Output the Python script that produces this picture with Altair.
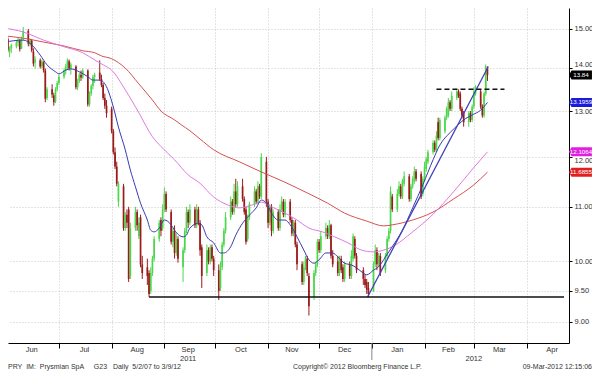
import altair as alt
import pandas as pd

# ---------------- data ----------------
trade_days = pd.bdate_range("2011-05-30", "2012-03-09")
trade_days = trade_days[trade_days != pd.Timestamp("2011-12-26")]

opens = [
 14.55,14.66,14.74,14.42,14.50, 14.55,14.65,14.70,14.50,14.78, 14.95,14.60,14.70,14.42,14.15,
 14.20,14.05,14.15,13.95,13.30, 13.50,13.36,13.22,13.50,13.65, 13.80,13.95,14.05,14.18,14.00,
 14.05,13.55,13.70,13.85,13.78, 13.95,13.15,13.40,13.58,13.80, 13.90,13.75,13.60,13.30,13.12,
 13.05,12.55,12.10,11.80,11.10, 11.40,10.60,10.85,10.95,9.75, 10.60,10.90,10.45,10.80,9.95,
 9.90,9.80,9.50,9.80,10.05, 10.40,10.75,10.60,10.95,11.25, 10.90,10.35,10.55,10.15,10.40,
 9.90,10.20,10.55,10.90,10.70, 10.95,10.65,10.95,10.70,10.25, 9.80,10.20,10.00,10.25,10.05,
 9.85,9.55,9.90,10.30,10.55, 10.80,11.10,10.90,11.30,11.05, 11.40,11.15,10.95,10.40,10.80,
 11.05,11.30,11.10,11.40,11.20, 11.90,11.10,10.70,11.00,10.55, 10.90,10.60,10.95,11.10,10.85,
 11.10,10.75,10.50,10.70,10.30, 9.95,9.65,9.90,10.05,9.75, 9.40,9.80,9.95,10.35,10.20,
 10.45,10.60,10.45,10.65,10.10, 10.00,9.80,10.05,9.90,9.70, 9.95,9.75,10.05,10.40,10.10,
 9.85,9.70,9.65,9.55, 9.50,9.95,10.20,9.95,10.10, 9.85,10.10,10.40,10.55,11.20,
 10.95,11.25,11.40,11.20,11.45, 11.60,11.15,11.40,11.50,11.70, 11.65,11.25,11.55,11.75,11.90,
 12.10,12.30,12.15,12.75,12.40, 12.55,12.85,12.90,13.20,13.05, 13.30,13.45,13.40,13.05,12.95,
 12.75,12.95,12.80,13.10,13.40, 13.45,13.10,12.90,13.40,14.00]
highs = [
 14.72,14.80,14.78,14.55,14.62, 14.70,14.78,14.74,14.80,15.05, 15.00,14.75,14.74,14.50,14.30,
 14.25,14.22,14.18,14.00,13.55, 13.62,13.42,13.55,13.70,13.85, 14.00,14.12,14.25,14.22,14.15,
 14.08,13.75,13.90,13.95,14.00, 13.98,13.45,13.62,13.85,13.90, 14.20,13.85,13.65,13.40,13.25,
 13.10,12.60,12.20,11.90,11.50, 11.45,10.90,10.95,11.00,10.70, 11.00,10.95,10.80,10.85,10.10,
 10.05,9.85,9.90,10.10,10.45, 10.75,10.80,11.05,11.38,11.30, 10.95,10.60,10.65,10.50,10.45,
 10.25,10.60,11.00,10.95,11.05, 11.00,11.05,11.00,10.75,10.30, 10.30,10.25,10.30,10.30,10.10,
 9.95,10.00,10.35,10.60,10.90, 11.20,11.15,11.45,11.55,11.50, 11.55,11.20,11.00,10.85,11.10,
 11.40,11.35,11.50,11.45,12.08, 12.00,11.15,11.05,11.05,10.95, 10.95,11.05,11.20,11.15,11.15,
 11.15,10.80,10.75,10.75,10.35, 10.00,10.00,10.10,10.10,9.80, 9.85,10.00,10.40,10.40,10.55,
 10.70,10.65,10.75,10.68,10.20, 10.10,10.10,10.10,9.95,10.00, 10.00,10.20,10.50,10.45,10.15,
 9.90,9.78,9.70,9.65, 10.00,10.30,10.25,10.15,10.15, 10.15,10.45,10.60,11.40,11.25,
 11.35,11.50,11.45,11.55,11.70, 11.65,11.45,11.60,11.80,11.75, 11.70,11.60,11.90,12.00,12.15,
 12.35,12.35,12.55,12.85,12.85, 12.90,13.10,13.30,13.25,13.45, 13.50,13.50,13.45,13.10,13.00,
 13.00,13.00,13.15,13.55,13.60, 13.50,13.15,13.45,14.10,14.05]
lows = [
 14.48,14.55,14.40,14.28,14.38, 14.50,14.55,14.42,14.48,14.70, 14.55,14.55,14.40,14.05,14.00,
 14.00,14.00,13.90,13.20,13.25, 13.30,13.12,13.18,13.45,13.60, 13.75,13.85,13.98,13.95,13.85,
 13.50,13.48,13.65,13.70,13.75, 13.10,13.10,13.35,13.50,13.65, 13.70,13.55,13.25,13.05,12.85,
 12.50,12.05,11.75,11.40,11.00, 10.55,10.55,10.60,9.65,9.70, 10.55,10.55,10.40,9.90,9.70,
 9.60,9.40,9.45,9.75,10.00, 10.35,10.45,10.55,10.90,10.90, 10.30,10.25,10.05,10.10,9.98,
 9.65,10.15,10.50,10.60,10.65, 10.60,10.60,10.65,10.10,9.55, 9.75,9.95,9.95,10.00,9.75,
 9.35,9.50,9.85,10.25,10.50, 10.75,10.85,10.85,11.00,11.00, 11.10,10.85,10.30,10.35,10.75,
 11.00,11.05,11.05,11.15,11.15, 11.00,10.60,10.65,10.45,10.50, 10.55,10.55,10.90,10.80,10.80,
 10.70,10.45,10.45,10.25,9.85, 9.60,9.60,9.85,9.75,9.10, 9.35,9.75,9.90,10.15,10.15,
 10.40,10.40,10.40,10.05,9.90, 9.75,9.75,9.80,9.65,9.65, 9.70,9.70,10.00,10.05,9.80,
 9.60,9.55,9.45,9.40, 9.48,9.90,9.85,9.90,9.75, 9.80,10.05,10.35,10.50,10.90,
 10.90,11.20,11.15,11.15,11.40, 11.10,11.10,11.35,11.45,11.50, 11.15,11.20,11.50,11.70,11.85,
 12.05,12.10,12.10,12.35,12.35, 12.50,12.80,12.85,13.00,13.00, 13.25,13.30,13.00,12.85,12.65,
 12.65,12.75,12.75,13.05,13.35, 13.05,12.85,12.85,13.35,13.70]
closes = [
 14.66,14.74,14.45,14.50,14.58, 14.65,14.72,14.48,14.76,14.95, 14.62,14.70,14.45,14.12,14.22,
 14.05,14.18,13.95,13.28,13.50, 13.38,13.20,13.50,13.65,13.80, 13.95,14.05,14.20,14.00,14.10,
 13.55,13.70,13.85,13.78,13.95, 13.15,13.40,13.58,13.80,13.85, 13.75,13.60,13.30,13.12,12.95,
 12.55,12.10,11.80,11.45,11.45, 10.60,10.85,10.70,9.70,10.60, 10.90,10.65,10.70,9.95,9.80,
 9.75,9.45,9.80,10.05,10.40, 10.70,10.55,10.95,11.25,10.95, 10.35,10.55,10.15,10.40,10.05,
 10.20,10.55,10.90,10.70,10.95, 10.65,10.95,10.70,10.20,9.75, 10.20,10.00,10.25,10.05,9.85,
 9.50,9.90,10.30,10.55,10.80, 11.10,10.90,11.30,11.05,11.40, 11.15,10.90,10.35,10.80,11.05,
 11.30,11.10,11.40,11.20,12.00, 11.10,10.70,11.00,10.55,10.90, 10.60,10.95,11.10,10.85,11.10,
 10.75,10.50,10.70,10.30,9.95, 9.65,9.90,10.05,9.80,9.25, 9.80,9.95,10.35,10.20,10.45,
 10.60,10.45,10.65,10.10,9.95, 9.80,10.05,9.85,9.70,9.95, 9.75,10.10,10.45,10.10,9.85,
 9.70,9.60,9.52,9.45, 9.95,10.20,9.95,10.10,9.80, 10.10,10.40,10.55,11.30,10.95,
 11.25,11.40,11.20,11.50,11.60, 11.15,11.40,11.55,11.70,11.55, 11.20,11.55,11.80,11.95,12.10,
 12.30,12.15,12.45,12.40,12.80, 12.85,13.05,13.20,13.05,13.35, 13.45,13.35,13.05,12.90,12.75,
 12.95,12.80,13.10,13.45,13.55, 13.10,12.90,13.40,14.05,13.84]

blue_dates = ["2011-05-30","2011-06-10","2011-06-15","2011-06-20","2011-06-24","2011-06-29","2011-07-01",
 "2011-07-05","2011-07-08","2011-07-13","2011-07-18","2011-07-21","2011-07-25","2011-07-27","2011-07-29",
 "2011-08-02","2011-08-05","2011-08-09","2011-08-12","2011-08-15","2011-08-18","2011-08-22","2011-08-24",
 "2011-08-26","2011-08-29","2011-09-01","2011-09-05","2011-09-07","2011-09-12","2011-09-14","2011-09-16",
 "2011-09-21","2011-09-23","2011-09-26","2011-09-30","2011-10-04","2011-10-06","2011-10-10","2011-10-13",
 "2011-10-17","2011-10-21","2011-10-25","2011-10-28","2011-10-31","2011-11-03","2011-11-07","2011-11-11",
 "2011-11-14","2011-11-18","2011-11-22","2011-11-25","2011-11-28","2011-12-01","2011-12-05","2011-12-09",
 "2011-12-12","2011-12-16","2011-12-20","2011-12-23","2011-12-27","2011-12-29","2012-01-02","2012-01-05",
 "2012-01-09","2012-01-13","2012-01-19","2012-01-25","2012-01-31","2012-02-06","2012-02-10","2012-02-16",
 "2012-02-21","2012-02-24","2012-02-29","2012-03-05","2012-03-09"]
blue_vals = [14.66,14.71,14.59,14.33,14.09,13.92,13.87,
 13.96,13.99,13.92,13.80,13.72,13.72,13.68,13.56,
 13.09,12.64,12.15,11.73,11.39,11.07,10.75,10.56,
 10.53,10.60,10.75,10.66,10.56,10.44,10.47,10.60,
 10.69,10.66,10.44,10.33,10.15,10.15,10.26,10.47,
 10.69,10.84,10.98,11.13,11.07,10.88,10.75,10.75,
 10.66,10.44,10.20,10.03,9.97,10.03,10.15,10.15,
 10.08,9.97,9.94,9.89,9.80,9.77,9.85,9.91,
 10.08,10.26,10.56,10.98,11.43,11.94,12.25,12.52,
 12.70,12.80,12.91,13.02,13.1959]

pink_dates = ["2011-05-30","2011-06-10","2011-06-22","2011-07-04","2011-07-15","2011-07-22","2011-07-27",
 "2011-08-01","2011-08-09","2011-08-17","2011-08-25","2011-08-30","2011-09-07","2011-09-15","2011-09-22",
 "2011-09-30","2011-10-08","2011-10-15","2011-10-23","2011-10-28","2011-11-03","2011-11-11","2011-11-18",
 "2011-11-25","2011-12-03","2011-12-10","2011-12-18","2011-12-26","2012-01-02","2012-01-08","2012-01-13",
 "2012-01-25","2012-02-06","2012-02-18","2012-03-01","2012-03-09"]
pink_vals = [15.02,14.92,14.71,14.54,14.39,14.21,14.09,
 13.96,13.49,12.96,12.43,12.22,11.94,11.63,11.46,
 11.19,11.04,10.98,11.04,11.09,11.00,10.88,10.75,
 10.60,10.53,10.44,10.33,10.20,10.17,10.20,10.26,
 10.53,10.86,11.29,11.78,12.1064]

red_dates = ["2011-05-30","2011-06-10","2011-06-22","2011-07-04","2011-07-15","2011-07-22","2011-07-26",
 "2011-08-01","2011-08-09","2011-08-17","2011-08-25","2011-08-30","2011-09-07","2011-09-11","2011-09-16",
 "2011-09-22","2011-09-30","2011-10-15","2011-10-28","2011-11-11","2011-11-24","2011-12-06","2011-12-16",
 "2011-12-29","2012-01-08","2012-01-13","2012-01-25","2012-02-06","2012-02-18","2012-03-01","2012-03-09"]
red_vals = [14.82,14.76,14.66,14.56,14.44,14.39,14.31,
 14.24,14.01,13.63,13.25,13.00,12.80,12.69,12.56,
 12.38,12.15,11.90,11.69,11.48,11.27,11.07,10.88,
 10.73,10.64,10.66,10.75,10.90,11.15,11.43,11.6855]

trend_dates = ["2011-12-29T12:00:00", "2012-03-09T12:00:00"]
trend_vals = [9.40, 14.05]
support_level = 9.40
support_dates = ["2011-08-23", "2012-04-23"]
resist_level = 13.50
resist_dates = ["2012-02-08", "2012-03-19"]

tag_vals = [13.84, 13.1959, 12.1064, 11.6855]
tag_text = ["13.84", "13.1959", "12.1064", "11.6855"]
tag_cols = ["#000000", "#1c1cd8", "#e020e0", "#e02020"]

month_names = ["Jun", "Jul", "Aug", "Sep", "Oct", "Nov", "Dec", "Jan", "Feb", "Mar", "Apr"]
month_mids = ["2011-06-15", "2011-07-16", "2011-08-16", "2011-09-15", "2011-10-16", "2011-11-15",
              "2011-12-16", "2012-01-16", "2012-02-15", "2012-03-16", "2012-04-16"]
year_names = ["2011", "2012"]
year_mids = ["2011-09-15", "2012-03-01"]
y_ticks = [9, 9.5, 10, 11, 12, 13, 14, 15]

NB = "\u00a0"
footer_left = f"PRY{NB}{NB}IM:{NB}{NB}Prysmian SpA{NB*5}G23{NB*3}Daily{NB*2}5/2/07 to 3/9/12"
footer_mid = "Copyright\u00a9 2012 Bloomberg Finance L.P."
footer_right = "09-Mar-2012 12:15:06"

# ---------------- frames ----------------
cdf = pd.DataFrame({"date": trade_days, "open": opens, "high": highs, "low": lows, "close": closes})
cdf["dir"] = ["up" if c >= o else "down" for o, c in zip(opens, closes)]

blue = pd.DataFrame({"date": pd.to_datetime(blue_dates), "value": blue_vals})
pink = pd.DataFrame({"date": pd.to_datetime(pink_dates), "value": pink_vals})
red = pd.DataFrame({"date": pd.to_datetime(red_dates), "value": red_vals})
trend = pd.DataFrame({"date": pd.to_datetime(trend_dates), "value": trend_vals})
support = pd.DataFrame({"date": [pd.Timestamp(support_dates[0])], "d2": [pd.Timestamp(support_dates[1])], "value": [support_level]})
resist = pd.DataFrame({"date": [pd.Timestamp(resist_dates[0])], "d2": [pd.Timestamp(resist_dates[1])], "value": [resist_level]})
tags = pd.DataFrame({"value": tag_vals, "t": tag_text, "c": tag_cols})
months = pd.DataFrame({"date": pd.to_datetime(month_mids), "m": month_names})
years = pd.DataFrame({"date": pd.to_datetime(year_mids), "y": year_names})

W, H = 561, 335
RP = 23
FONT = "Liberation Sans"

XS = alt.Scale(domain=[alt.DateTime(year=2011, month=6, date=4), alt.DateTime(year=2012, month=4, date=23)])
YS = alt.Scale(type="log", domain=[8.6755, 15.557], nice=False)

month_ticks = [alt.DateTime(year=2011, month=m, date=1) for m in range(7, 13)] + \
              [alt.DateTime(year=2012, month=m, date=1) for m in range(1, 5)]

xaxis = alt.Axis(values=month_ticks, labels=False, ticks=True, tickSize=5, grid=True, domain=True,
                 title=None, orient="bottom")
yaxis = alt.Axis(
    values=y_ticks, format=".2f", orient="right", tickSize=3, labelPadding=2,
    grid=True, domain=True, title=None,
    labelBaseline={"condition": [{"test": "datum.value == 14", "value": "bottom"},
                                 {"test": "datum.value == 12", "value": "top"}],
                   "value": "middle"},
)


def X(field):
    return alt.X(field, type="temporal", scale=XS, axis=xaxis)


def Y(field):
    return alt.Y(field, type="quantitative", scale=YS, axis=yaxis)


candle_color = alt.Color("dir:N", scale=alt.Scale(domain=["up", "down"], range=["#4cd84c", "#9b1b1b"]), legend=None)

wick = alt.Chart(cdf).mark_rule(strokeWidth=1, clip=True).encode(
    x=X("date"), y=Y("low"), y2="high:Q", color=candle_color)
body = alt.Chart(cdf).mark_bar(size=1.7, clip=True).encode(
    x=X("date"), y=Y("open"), y2="close:Q", color=candle_color)

red_line = alt.Chart(red).mark_line(strokeWidth=1, clip=True, interpolate="monotone", color="#d65050").encode(
    x=X("date"), y=Y("value"))
pink_line = alt.Chart(pink).mark_line(strokeWidth=1, clip=True, interpolate="monotone", color="#e07ae0").encode(
    x=X("date"), y=Y("value"))
blue_line = alt.Chart(blue).mark_line(strokeWidth=1, clip=True, interpolate="monotone", color="#3a3ab0").encode(
    x=X("date"), y=Y("value"))
trend_line = alt.Chart(trend).mark_line(strokeWidth=1.3, color="#4040b8", clip=True).encode(
    x=X("date"), y=Y("value"))
support_rule = alt.Chart(support).mark_rule(strokeWidth=1.5, color="#111111", clip=True).encode(
    x=X("date"), x2="d2:T", y=Y("value"))
resist_rule = alt.Chart(resist).mark_rule(strokeWidth=1.5, color="#111111", strokeDash=[5, 3], clip=True).encode(
    x=X("date"), x2="d2:T", y=Y("value"))

# arrow-tipped label box: unit path scaled by sqrt(size)/2 -> 10.2 px per unit
tag_shape = "M -0.15 0 L 0.1 -0.44 L 2.1 -0.44 L 2.1 0.44 L 0.1 0.44 Z"
tag_boxes = alt.Chart(tags).mark_point(shape=tag_shape, filled=True, opacity=1, size=416, strokeWidth=0).encode(
    x=alt.value(W + 1.5),
    y=Y("value"),
    color=alt.Color("c:N", scale=None, legend=None),
)
tag_labels = alt.Chart(tags).mark_text(font=FONT, fontSize=6.2, color="white", align="center", baseline="middle").encode(
    x=alt.value(W + 12),
    y=Y("value"),
    text="t:N",
)

month_text = alt.Chart(months).mark_text(font=FONT, fontSize=7.5, color="#333333", baseline="middle").encode(
    x=X("date"), y=alt.value(H + 7), text="m:N")
year_text = alt.Chart(years).mark_text(font=FONT, fontSize=7.5, color="#333333", baseline="middle").encode(
    x=X("date"), y=alt.value(H + 16), text="y:N")
year_sep = alt.Chart(pd.DataFrame({"date": [pd.Timestamp("2012-01-01")]})).mark_rule(color="#888888", strokeWidth=1).encode(
    x=X("date"), y=alt.value(H), y2=alt.value(H + 17))

foot_l = alt.Chart(pd.DataFrame({"t": [footer_left]})).mark_text(
    font=FONT, fontSize=7, color="#333333", align="left", baseline="middle").encode(
    text="t:N", x=alt.value(0), y=alt.value(H + 24))
foot_m = alt.Chart(pd.DataFrame({"t": [footer_mid]})).mark_text(
    font=FONT, fontSize=7, color="#333333", align="left", baseline="middle").encode(
    text="t:N", x=alt.value(285), y=alt.value(H + 24))
foot_r = alt.Chart(pd.DataFrame({"t": [footer_right]})).mark_text(
    font=FONT, fontSize=7, color="#333333", align="right", baseline="middle").encode(
    text="t:N", x=alt.value(W + RP), y=alt.value(H + 24))

chart = alt.layer(
    wick, body, red_line, pink_line, blue_line, trend_line, support_rule, resist_rule,
    tag_boxes, tag_labels, month_text, year_text, year_sep, foot_l, foot_m, foot_r,
).properties(
    width=W, height=H,
    padding={"left": 0, "top": 0, "right": RP, "bottom": 29},
    autosize=alt.AutoSizeParams(type="none"),
    background="white",
).configure_view(stroke=None).configure_axis(
    labelFont=FONT, labelFontSize=7.5, labelColor="#333333",
    domainColor="#000000", tickColor="#000000", domainWidth=1,
    gridColor="#c8c8c8", gridDash=[1, 2], gridWidth=1,
)

chart.save("out.html", embed_options={"renderer": "svg", "actions": False})
